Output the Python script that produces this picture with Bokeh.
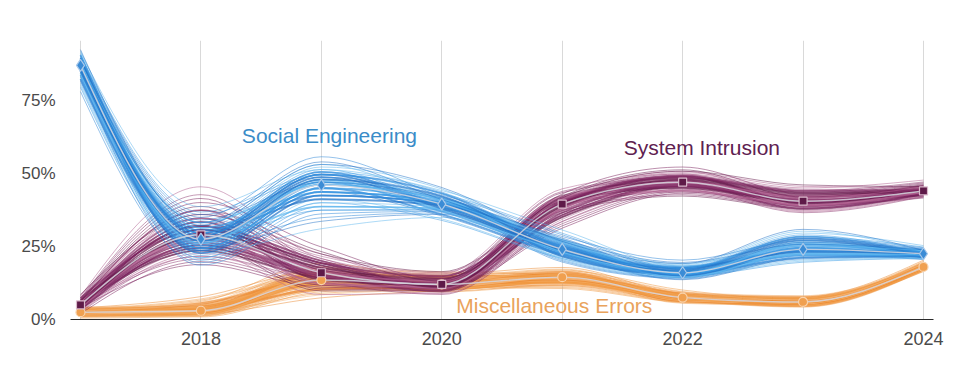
import numpy as np
from bokeh.plotting import figure
from bokeh.models import Range1d, FixedTicker, PrintfTickFormatter, ColumnDataSource
from bokeh.core.properties import value
from bokeh.embed import file_html
from bokeh.resources import INLINE

# ---------------- data ----------------
years = [2017, 2018, 2019, 2020, 2021, 2022, 2023, 2024]

se_center = [87, 27.5, 46, 39.5, 24, 16, 24, 22.5]
se_low    = [78, 17, 30, 33, 19, 13, 19, 20]
se_high   = [93, 39, 57, 46, 31, 21, 32, 25.5]

si_center = [5, 29, 16, 12, 39.5, 47, 40.5, 44]
si_low    = [2, 17, 8, 8, 30, 41, 36, 41]
si_high   = [9, 46, 26, 17, 45, 53, 47, 48]

me_center = [2.5, 3, 13.5, 12, 14.5, 7.5, 6, 18]
me_low    = [0.5, 0.5, 7, 9, 10, 5, 4, 16]
me_high   = [4.5, 8, 20, 17, 18, 10.5, 8.5, 20.5]

y_ticks = [0, 25, 50, 75]
x_label_ticks = [2018, 2020, 2022, 2024]

FONT = "Liberation Sans"

# ---------------- helpers (monotone cubic -> bezier segments) ----------------
def tangents(x, y):
    x = np.asarray(x, float); y = np.asarray(y, float)
    n = len(x)
    m = np.zeros(n)
    for i in range(1, n - 1):
        h0 = x[i] - x[i - 1]; h1 = x[i + 1] - x[i]
        s0 = (y[i] - y[i - 1]) / h0; s1 = (y[i + 1] - y[i]) / h1
        p = (s0 * h1 + s1 * h0) / (h0 + h1)
        m[i] = (np.sign(s0) + np.sign(s1)) * min(abs(s0), abs(s1), 0.5 * abs(p))
    h = x[1] - x[0]
    m[0] = (3 * (y[1] - y[0]) / h - m[1]) / 2
    h = x[-1] - x[-2]
    m[-1] = (3 * (y[-1] - y[-2]) / h - m[-2]) / 2
    return m

def bez_segments(x, y):
    m = tangents(x, y)
    d = dict(x0=[], y0=[], x1=[], y1=[], cx0=[], cy0=[], cx1=[], cy1=[])
    for i in range(len(x) - 1):
        h = x[i + 1] - x[i]
        d["x0"].append(x[i]); d["y0"].append(y[i])
        d["x1"].append(x[i + 1]); d["y1"].append(y[i + 1])
        d["cx0"].append(x[i] + h / 3); d["cy0"].append(y[i] + m[i] * h / 3)
        d["cx1"].append(x[i + 1] - h / 3); d["cy1"].append(y[i + 1] - m[i + 1] * h / 3)
    return d

# ---------------- figure ----------------
p = figure(width=961, height=373, x_range=Range1d(2016.917, 2024.083),
           y_range=Range1d(0, 95.5), output_backend="svg", toolbar_location=None,
           min_border_left=70, min_border_right=28, min_border_top=40, min_border_bottom=54)
p.outline_line_color = None
p.background_fill_color = "white"
p.border_fill_color = "white"

p.xgrid.ticker = FixedTicker(ticks=years)
p.xgrid.grid_line_color = "#d9d9d9"
p.xgrid.grid_line_width = 1
p.ygrid.grid_line_color = None

p.xaxis.ticker = FixedTicker(ticks=x_label_ticks)
p.xaxis.axis_line_color = "#2a2a2a"
p.xaxis.axis_line_width = 1
p.xaxis.major_tick_line_color = None
p.xaxis.minor_tick_line_color = None
p.xaxis.major_tick_out = 0
p.xaxis.major_tick_in = 0
p.xaxis.major_label_standoff = 12
p.xaxis.major_label_text_font = FONT
p.xaxis.major_label_text_font_size = "18px"
p.xaxis.major_label_text_color = "#4a4a4a"

p.yaxis.ticker = FixedTicker(ticks=y_ticks)
p.yaxis.formatter = PrintfTickFormatter(format="%d%%")
p.yaxis.axis_line_color = None
p.yaxis.major_tick_line_color = None
p.yaxis.minor_tick_line_color = None
p.yaxis.major_tick_out = 0
p.yaxis.major_tick_in = 0
p.yaxis.major_label_standoff = 15
p.yaxis.major_label_text_font = FONT
p.yaxis.major_label_text_font_size = "17px"
p.yaxis.major_label_text_color = "#4a4a4a"

series = [
    (me_center, me_low, me_high, ["#f0973f", "#f2a659", "#ec8c34", "#f5b577"], 2.4, 0.8),
    (si_center, si_low, si_high, ["#7a1f5c", "#8e3a70", "#b06090", "#651a4c"], 1.8, 0.7),
    (se_center, se_low, se_high, ["#2b86d8", "#3a9be6", "#5bb5ee", "#1f72c8"], 1.8, 0.7),
]

N = 40
gs = np.linspace(-1, 1, N)
for center, low, high, cols, w_in, a_in in series:
    c = np.array(center, float); lo = np.array(low, float); hi = np.array(high, float)
    for k in range(N):
        yy = []
        for i in range(len(years)):
            g = 0.65 * gs[k] + 0.35 * gs[(k * 7 + i * 13) % N]
            yy.append(c[i] + g * ((hi[i] - c[i]) if g > 0 else (c[i] - lo[i])))
        src = ColumnDataSource(bez_segments(years, yy))
        inner = abs(gs[k]) < 0.45
        p.bezier(x0="x0", y0="y0", x1="x1", y1="y1", cx0="cx0", cy0="cy0",
                 cx1="cx1", cy1="cy1", source=src, line_color=cols[k % len(cols)],
                 line_width=w_in if inner else 1.0, line_alpha=a_in if inner else 0.5)

# central lines
for center in (me_center, si_center, se_center):
    src = ColumnDataSource(bez_segments(years, center))
    p.bezier(x0="x0", y0="y0", x1="x1", y1="y1", cx0="cx0", cy0="cy0",
             cx1="cx1", cy1="cy1", source=src, line_color="#d6d6de",
             line_width=1.4, line_alpha=0.85)

p.scatter(years, me_center, marker="circle", size=9, fill_color="#f0a050",
          line_color="#f8d3ad", line_width=1.2)
p.scatter(years, si_center, marker="square", size=8, fill_color="#5e1a48",
          line_color="#d9b9cb", line_width=1.2)
p.scatter(years, se_center, marker="diamond", size=12, fill_color="#3b8cd6",
          line_color="#a9c9ea", line_width=1.2)

# series labels
p.text(x=[2018.34], y=[63], text=["Social Engineering"], text_font=value(FONT),
       text_font_size="21px", text_color="#3a8cc8", text_baseline="middle",
       text_align="left")
p.text(x=[2021.51], y=[59], text=["System Intrusion"], text_font=value(FONT),
       text_font_size="21px", text_color="#5e2150", text_baseline="middle",
       text_align="left")
p.text(x=[2020.12], y=[4.8], text=["Miscellaneous Errors"], text_font=value(FONT),
       text_font_size="21px", text_color="#e9a35c", text_baseline="middle",
       text_align="left")

open("out.html", "w").write(file_html(p, INLINE))
